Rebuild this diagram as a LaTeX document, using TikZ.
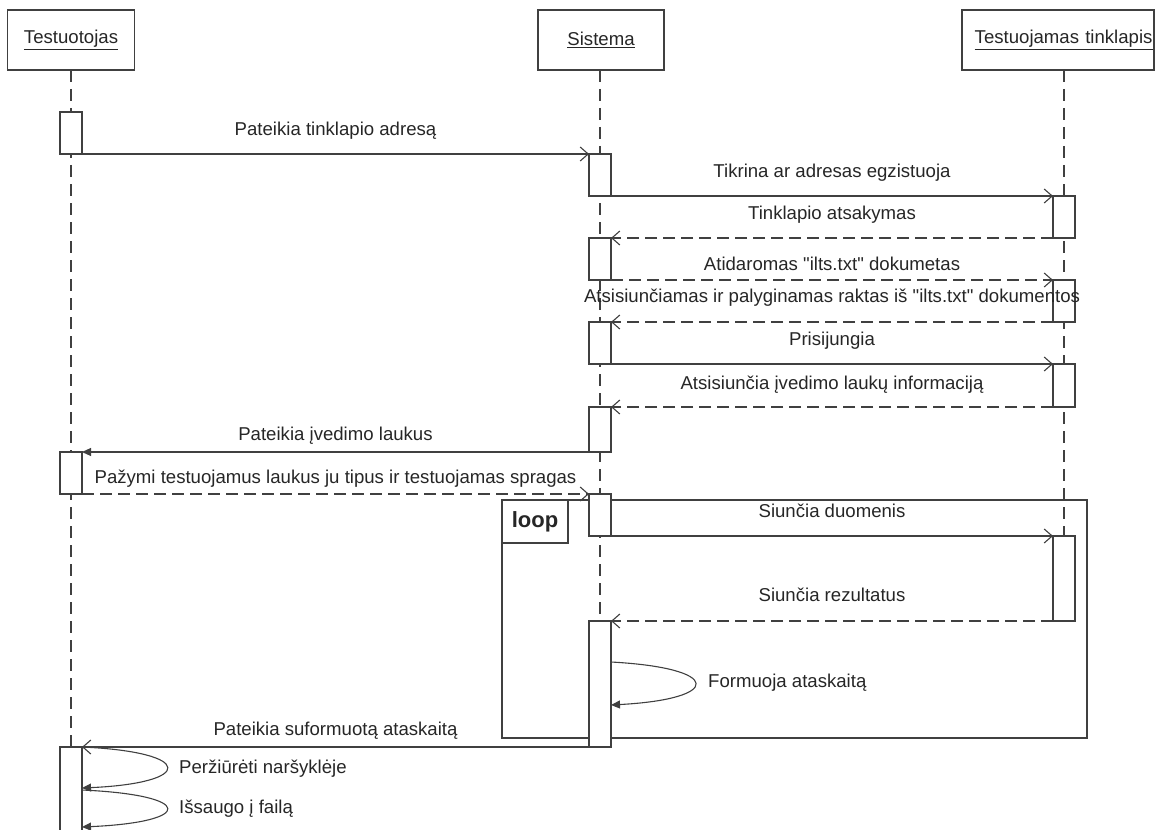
\documentclass[tikz,border=0pt]{standalone}
\usepackage{fontspec}
\setmainfont{Liberation Sans}[Ligatures=TeXOff]
\usetikzlibrary{arrows.meta,calc,backgrounds}
\newcommand{\dq}{\char34\relax}
\begin{document}
\begin{tikzpicture}[x=1pt,y=-1pt,
  every node/.style={font=\fontsize{18.6}{22}\selectfont, text=black!85},
  ln/.style={draw=black!75, line width=1.1pt},
  head/.style={ln, rectangle, inner sep=0pt, outer sep=0pt, minimum height=60},
  life/.style={draw=black!75, line width=1.2pt, dash pattern=on 12pt off 7pt},
  act/.style={ln, fill=white, rectangle, inner sep=0pt, outer sep=0pt, minimum width=22},
  call/.style={ln, -{Straight Barb[length=8pt,width=14pt]}},
  reply/.style={call, dash pattern=on 12pt off 6pt},
  sync/.style={ln, -{Triangle[length=9pt,width=8pt]}},
  lbl/.style={anchor=base, inner sep=0pt},
  note/.style={anchor=base west, inner sep=0pt},
  frame/.style={ln, rectangle, inner sep=0pt, outer sep=0pt, anchor=north west}
]
\useasboundingbox (0,0) rectangle (1155,829);
\clip (0,0) rectangle (1155,829);

% heads
\node[head, minimum width=127] (T) at (71,40) {\underline{Testuotojas}};
\node[head, minimum width=126] (S) at (601,40) {\underline{Sistema}};
\node[head, minimum width=192, text width=189pt, align=right, inner xsep=1pt] (W) at (1058,40) {\underline{Testuojamas tinklapis}};

% activations
\node[act, minimum height=42] (t1) at (71,133) {};
\node[act, minimum height=42] (s1) at (600,175) {};
\node[act, minimum height=42] (w1) at (1064,217) {};
\node[act, minimum height=42] (s2) at (600,259) {};
\node[act, minimum height=42] (w2) at (1064,301) {};
\node[act, minimum height=42] (s3) at (600,343) {};
\node[act, minimum height=43] (w3) at (1064,385.5) {};
\node[act, minimum height=45] (s4) at (600,429.5) {};
\node[act, minimum height=42] (t2) at (71,473) {};
\node[act, minimum height=42] (s5) at (600,515) {};
\node[act, minimum height=85] (w4) at (1064,578.5) {};
\node[act, minimum height=126] (s6) at (600,684) {};
\node[act, minimum height=100] (t3) at (71,797) {};

\begin{pgfonlayer}{background}
% lifelines
\draw[life] (t1 |- T.south) -- (t3.north);
\draw[life] (s1 |- S.south) -- (s6.north);
\draw[life] (w1 |- W.south) -- (w4.north);
% loop frame
\node[frame, minimum width=585, minimum height=238] (loop) at (502,500) {};
\node[frame, fill=white, minimum width=66, minimum height=43, font=\bfseries\fontsize{22}{26}\selectfont] (looptag) at (loop.north west) {loop};
\end{pgfonlayer}

% messages
\draw[call] (t1.south east) -- node[lbl, yshift=18pt] {Pateikia tinklapio adresą} (s1.north west);
\draw[call] (s1.south east) -- node[lbl, yshift=19pt] {Tikrina ar adresas egzistuoja} (w1.north west);
\draw[reply] (w1.south west) -- node[lbl, yshift=19pt] {Tinklapio atsakymas} (s2.north east);
\draw[reply] (s2.south east) -- node[lbl, yshift=10pt] {Atidaromas \dq ilts.txt\dq\ dokumetas} (w2.north west);
\draw[reply] (w2.south west) -- node[lbl, yshift=20pt] {Atsisiunčiamas ir palyginamas raktas iš \dq ilts.txt\dq\ dokumentos} (s3.north east);
\draw[call] (s3.south east) -- node[lbl, yshift=19pt] {Prisijungia} (w3.north west);
\draw[reply] (w3.south west) -- node[lbl, yshift=18pt] {Atsisiunčia įvedimo laukų informaciją} (s4.north east);
\draw[sync] (s4.south west) -- node[lbl, yshift=12pt] {Pateikia įvedimo laukus} (t2.north east);
\draw[reply] (t2.south east) -- node[lbl, yshift=11pt] {Pažymi testuojamus laukus ju tipus ir testuojamas spragas} (s5.north west);
\draw[call] (s5.south east) -- node[lbl, yshift=19pt] {Siunčia duomenis} (w4.north west);
\draw[reply] (w4.south west) -- node[lbl, yshift=20pt] {Siunčia rezultatus} (s6.north east);
\draw[sync] ($(s6.north east)+(0,41)$) .. controls +(112,6) and +(112,-6) .. ($(s6.north east)+(0,84)$);
\node[note] (formuoja) at (708,687) {Formuoja ataskaitą};
\draw[call] (s6.south west) -- node[lbl, yshift=12pt] {Pateikia suformuotą ataskaitą} (t3.north east);
\draw[sync] (t3.north east) .. controls +(113,5) and +(113,-5) .. ($(t3.north east)+(0,41)$);
\node[note] (perz) at (179,773) {Peržiūrėti naršyklėje};
\draw[sync] ($(t3.north east)+(0,43)$) .. controls +(113,5) and +(113,-5) .. ($(t3.north east)+(0,80)$);
\node[note] (isaugo) at (179,813) {Išsaugo į failą};
\end{tikzpicture}
\end{document}
